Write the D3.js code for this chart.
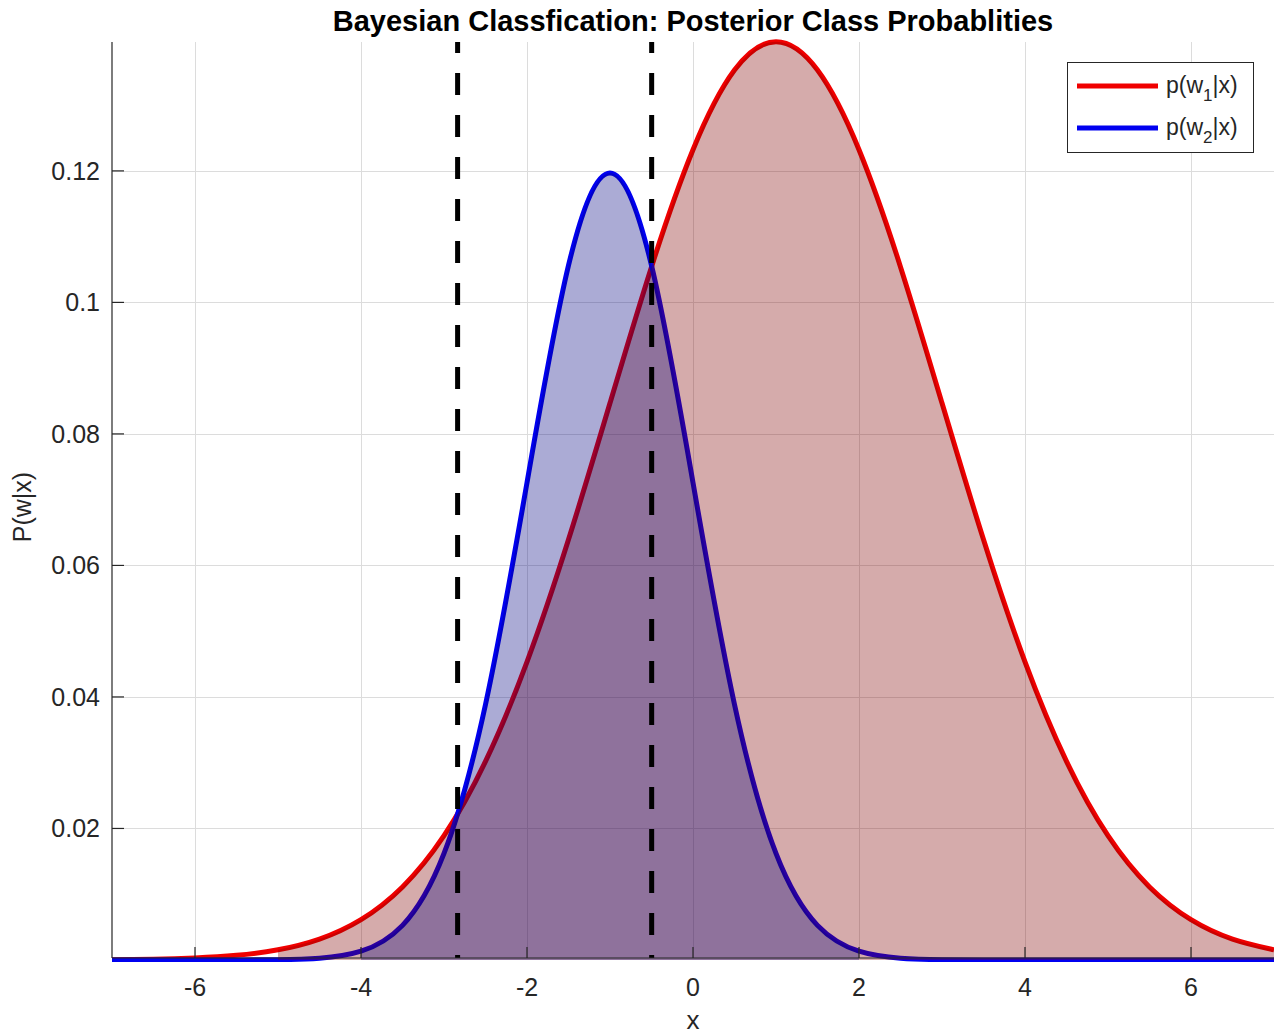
<!DOCTYPE html>
<html>
<head>
<meta charset="utf-8">
<script src="https://cdn.jsdelivr.net/npm/d3@7"></script>
<style>
  body { margin: 0; background: #fff; }
  svg text { font-family: "Liberation Sans", Arial, Helvetica, sans-serif; fill: #262626; }
</style>
</head>
<body>
<svg id="chart" width="1280" height="1035"></svg>
<script>
/*  Data  */
var xValues = [-7, -6.5, -6, -5.5, -5, -4.5, -4, -3.5, -3, -2.5, -2, -1.5, -1, -0.5,
               0, 0.5, 1, 1.5, 2, 2.5, 3, 3.5, 4, 4.5, 5, 5.5, 6, 6.5, 7];
// p(w1|x)
var w1Values = [0.00005, 0.00012, 0.00031, 0.00071, 0.00155, 0.00318, 0.00614, 0.01111,
                0.01890, 0.03020, 0.04533, 0.06393, 0.08469, 0.10540, 0.12322, 0.13533,
                0.13963, 0.13533, 0.12322, 0.10540, 0.08469, 0.06393, 0.04533, 0.03020,
                0.01890, 0.01111, 0.00614, 0.00318, 0.00155];
// p(w2|x)
var w2Values = [0, 0, 0, 0.000005, 0.00004, 0.00026, 0.00133, 0.00526,
                0.01620, 0.03886, 0.07259, 0.10562, 0.11968, 0.10562, 0.07259, 0.03886,
                0.01620, 0.00526, 0.00133, 0.00026, 0.00004, 0.000005, 0, 0,
                0, 0, 0, 0, 0];
// x range covered by each shaded area
var w1FillRange = [-5, 7];
var w2FillRange = [-4, 2];
// decision boundaries (dashed lines)
var boundaries = [-2.836, -0.498];

var xTicks = [-6, -4, -2, 0, 2, 4, 6];
var yTicks = [0.02, 0.04, 0.06, 0.08, 0.1, 0.12];
var yTickLabels = ["0.02", "0.04", "0.06", "0.08", "0.1", "0.12"];
var seriesNames = ["p(w", "p(w"];
var seriesSubs = ["1", "2"];

var svg = d3.select("#chart");
var plotLeft = 112, plotRight = 1274, plotTop = 42, plotBottom = 958;

var x = d3.scaleLinear().domain([-7, 7]).range([plotLeft, plotRight]);
var y = d3.scaleLinear().domain([0.0003, 0.1396]).range([plotBottom, plotTop]);

var w1Data = xValues.map(function(d, i) { return {x: d, y: w1Values[i]}; });
var w2Data = xValues.map(function(d, i) { return {x: d, y: w2Values[i]}; });

svg.append("defs").append("clipPath").attr("id", "plotClip")
  .append("rect")
    .attr("x", plotLeft).attr("y", plotTop - 6)
    .attr("width", plotRight - plotLeft).attr("height", plotBottom - plotTop + 10);

// grid
var grid = svg.append("g").attr("stroke", "#dcdcdc").attr("stroke-width", 1);
grid.selectAll(".vgrid").data(xTicks).enter().append("line")
  .attr("x1", function(d) { return Math.round(x(d)) + 0.5; })
  .attr("x2", function(d) { return Math.round(x(d)) + 0.5; })
  .attr("y1", plotTop).attr("y2", plotBottom);
grid.selectAll(".hgrid").data(yTicks).enter().append("line")
  .attr("y1", function(d) { return Math.round(y(d)) + 0.5; })
  .attr("y2", function(d) { return Math.round(y(d)) + 0.5; })
  .attr("x1", plotLeft).attr("x2", plotRight);

var plot = svg.append("g").attr("clip-path", "url(#plotClip)");

var line = d3.line()
  .x(function(d) { return x(d.x); })
  .y(function(d) { return y(d.y); })
  .curve(d3.curveNatural);

var area = d3.area()
  .x(function(d) { return x(d.x); })
  .y0(y(0))
  .y1(function(d) { return y(d.y); })
  .curve(d3.curveNatural);

// lines first, shaded areas laid over them (as in the original)
plot.append("path").datum(w1Data)
  .attr("d", line).attr("fill", "none")
  .attr("stroke", "#f00000").attr("stroke-width", 5);
plot.append("path").datum(w2Data)
  .attr("d", line).attr("fill", "none")
  .attr("stroke", "#0000f0").attr("stroke-width", 5);

function inRange(r) {
  return function(d) { return d.x >= r[0] && d.x <= r[1]; };
}
plot.append("path").datum(w1Data.filter(inRange(w1FillRange)))
  .attr("d", area).attr("fill", "#800000").attr("fill-opacity", 0.33);
plot.append("path").datum(w2Data.filter(inRange(w2FillRange)))
  .attr("d", area).attr("fill", "#000080").attr("fill-opacity", 0.33);

// decision boundaries
plot.selectAll(".boundary").data(boundaries).enter().append("line")
  .attr("x1", function(d) { return x(d); })
  .attr("x2", function(d) { return x(d); })
  .attr("y1", plotTop).attr("y2", plotBottom)
  .attr("stroke", "#000").attr("stroke-width", 5)
  .attr("stroke-dasharray", "22,20")
  .attr("stroke-dashoffset", 11);

// axes
var axes = svg.append("g").attr("stroke", "#262626").attr("stroke-width", 1.2);
axes.append("line").attr("x1", plotLeft).attr("x2", plotLeft).attr("y1", plotTop).attr("y2", plotBottom);
axes.append("line").attr("x1", plotLeft).attr("x2", plotRight).attr("y1", plotBottom).attr("y2", plotBottom);
axes.selectAll(".xtick").data(xTicks).enter().append("line")
  .attr("x1", function(d) { return x(d); })
  .attr("x2", function(d) { return x(d); })
  .attr("y1", plotBottom).attr("y2", plotBottom - 11);
axes.selectAll(".ytick").data(yTicks).enter().append("line")
  .attr("y1", function(d) { return y(d); })
  .attr("y2", function(d) { return y(d); })
  .attr("x1", plotLeft).attr("x2", plotLeft + 12);

svg.selectAll(".xlabel").data(xTicks).enter().append("text")
  .attr("x", function(d) { return x(d); })
  .attr("y", 996)
  .attr("text-anchor", "middle")
  .style("font-size", "25px")
  .text(function(d) { return d < 0 ? "-" + Math.abs(d) : d; });

svg.selectAll(".ylabel").data(yTicks).enter().append("text")
  .attr("x", 100)
  .attr("y", function(d) { return y(d) + 9; })
  .attr("text-anchor", "end")
  .style("font-size", "25px")
  .text(function(d, i) { return yTickLabels[i]; });

// titles
svg.append("text")
  .attr("x", 693).attr("y", 31)
  .attr("text-anchor", "middle")
  .style("font-size", "29px").style("font-weight", "bold")
  .style("fill", "#000")
  .text("Bayesian Classfication: Posterior Class Probablities");

svg.append("text")
  .attr("x", 693).attr("y", 1029)
  .attr("text-anchor", "middle")
  .style("font-size", "26px")
  .text("x");

svg.append("text")
  .attr("transform", "translate(31,507) rotate(-90)")
  .attr("text-anchor", "middle")
  .style("font-size", "25px")
  .text("P(w|x)");

// legend
var legend = svg.append("g");
legend.append("rect")
  .attr("x", 1067.5).attr("y", 62.5).attr("width", 186).attr("height", 90)
  .attr("fill", "#fff").attr("stroke", "#262626").attr("stroke-width", 1);
var legendColors = ["#f00000", "#0000f0"];
var entry = legend.selectAll(".entry").data(seriesNames).enter().append("g")
  .attr("transform", function(d, i) { return "translate(0," + (86 + i * 42) + ")"; });
entry.append("line")
  .attr("x1", 1077).attr("x2", 1158).attr("y1", 0).attr("y2", 0)
  .attr("stroke", function(d, i) { return legendColors[i]; })
  .attr("stroke-width", 5);
var lt = entry.append("text")
  .attr("x", 1166).attr("y", 7)
  .style("font-size", "23px");
lt.append("tspan").text(function(d) { return d; });
lt.append("tspan").attr("dy", 8).style("font-size", "17px")
  .text(function(d, i) { return seriesSubs[i]; });
lt.append("tspan").attr("dy", -8).text("|x)");
</script>
</body>
</html>
